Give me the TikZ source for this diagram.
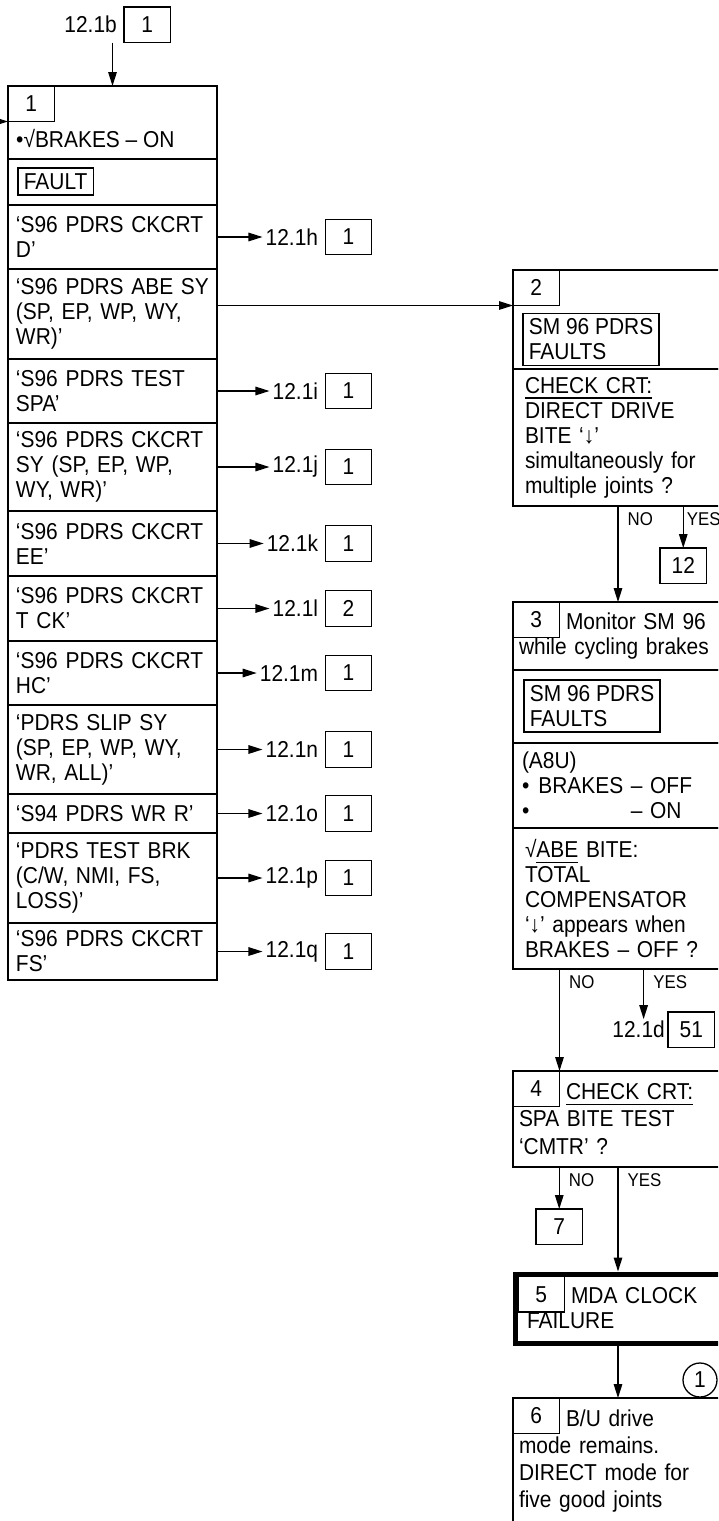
\documentclass[tikz,border=0pt]{standalone}
\usepackage{fontspec}
\setmainfont{Liberation Sans}[FakeStretch=0.91]
\usetikzlibrary{arrows.meta, positioning}

\newcommand{\mainfs}{\fontsize{23pt}{25pt}\selectfont}
\newcommand{\ynfs}{\fontsize{18.5pt}{20pt}\selectfont}
\newcommand{\undl}[1]{\setbox0=\hbox{#1}\rlap{\rule[-5.5pt]{\wd0}{1.4pt}}\box0\relax}

\begin{document}
\begin{tikzpicture}[
  x=1pt, y=-1pt,
  font=\mainfs,
  rowbox/.style={rectangle, draw, line width=1.9pt, outer sep=0pt, inner xsep=8pt, inner ysep=0pt, text width=193pt, align=left},
  stepbox/.style={rectangle, draw, line width=1.9pt, outer sep=0pt, inner xsep=#1, inner ysep=0pt, text width=222pt, anchor=north west, align=left},
  stepbox/.default=6pt,
  numbox/.style={rectangle, draw, line width=1.3pt, minimum width=46.5pt, minimum height=35.5pt, inner sep=0pt, outer sep=0pt},
  tag/.style={rectangle, draw, line width=1.7pt, inner xsep=6pt, inner ysep=5.5pt, align=left, anchor=north west},
  lbl/.style={inner xsep=3pt, inner ysep=2pt},
  yn/.style={font=\ynfs, anchor=north west, inner xsep=9pt, inner ysep=6pt},
  conn/.style={-{Triangle[length=14pt, width=8.5pt]}, line width=1.4pt}
]
\useasboundingbox (0,0) rectangle (718,1521);
\clip (0,0) rectangle (718,1521);

% Step 1: fault list
\node[rowbox, minimum height=73pt, anchor=north] (head) at (112.5,86) {};
\node[numbox, anchor=north west] (num1) at (head.north west) {1};
\node[anchor=base west, inner xsep=8pt] (brkon) at (8,147) {•√BRAKES – ON};
\node[rowbox, minimum height=46pt, below=0pt of head] (faultrow) {};
\node[tag] (fault) at ([shift={(9,8)}]faultrow.north west) {FAULT};
\node[rowbox, minimum height=64pt, below=0pt of faultrow] (ckd) {‘S96 PDRS CKCRT\\D’};
\node[rowbox, minimum height=90pt, below=0pt of ckd] (abe) {‘S96 PDRS ABE SY\\(SP, EP, WP, WY,\\WR)’};
\node[rowbox, minimum height=64pt, below=0pt of abe] (spa) {‘S96 PDRS TEST\\SPA’};
\node[rowbox, minimum height=88pt, below=0pt of spa] (cksy) {‘S96 PDRS CKCRT\\SY (SP, EP, WP,\\WY, WR)’};
\node[rowbox, minimum height=65pt, below=0pt of cksy] (ckee) {‘S96 PDRS CKCRT\\EE’};
\node[rowbox, minimum height=65pt, below=0pt of ckee] (cktck) {‘S96 PDRS CKCRT\\T CK’};
\node[rowbox, minimum height=64pt, below=0pt of cktck] (ckhc) {‘S96 PDRS CKCRT\\HC’};
\node[rowbox, minimum height=89pt, below=0pt of ckhc] (slip) {‘PDRS SLIP SY\\(SP, EP, WP, WY,\\WR, ALL)’};
\node[rowbox, minimum height=39pt, below=0pt of slip] (wrr) {‘S94 PDRS WR R’};
\node[rowbox, minimum height=90pt, below=0pt of wrr] (brktest) {‘PDRS TEST BRK\\(C/W, NMI, FS,\\LOSS)’};
\node[rowbox, minimum height=57pt, below=0pt of brktest] (ckfs) {‘S96 PDRS CKCRT\\FS’};

% Entry and exit references
\node[numbox, anchor=north west] (reftop) at (124,7) {1};
\node[lbl, left=4pt of reftop] (lbltop) {12.1b};
\coordinate (fromleft) at (-30,121.5);
\coordinate (refcol) at (348.5,0);

\node[numbox] (refh) at (ckd.east -| refcol) {1};
\node[lbl, left=4pt of refh] (lblh) {12.1h};
\node[numbox] (refi) at (spa.east -| refcol) {1};
\node[lbl, left=4pt of refi] (lbli) {12.1i};
\node[numbox] (refj) at (cksy.east -| refcol) {1};
\node[lbl, left=4pt of refj] (lblj) {12.1j};
\node[numbox] (refk) at (ckee.east -| refcol) {1};
\node[lbl, left=4pt of refk] (lblk) {12.1k};
\node[numbox] (refl) at (cktck.east -| refcol) {2};
\node[lbl, left=4pt of refl] (lbll) {12.1l};
\node[numbox] (refm) at (ckhc.east -| refcol) {1};
\node[lbl, left=4pt of refm] (lblm) {12.1m};
\node[numbox] (refn) at (slip.east -| refcol) {1};
\node[lbl, left=4pt of refn] (lbln) {12.1n};
\node[numbox] (refo) at (wrr.east -| refcol) {1};
\node[lbl, left=4pt of refo] (lblo) {12.1o};
\node[numbox] (refp) at (brktest.east -| refcol) {1};
\node[lbl, left=4pt of refp] (lblp) {12.1p};
\node[numbox] (refq) at (ckfs.east -| refcol) {1};
\node[lbl, left=4pt of refq] (lblq) {12.1q};

% Step 2
\node[stepbox=12pt, minimum height=99pt] (b2a) at (513,270) {};
\node[numbox, anchor=north west] (num2) at (b2a.north west) {2};
\node[tag] (sm2) at ([shift={(9,7)}]num2.south west) {SM 96 PDRS\\FAULTS};
\node[stepbox=12pt, minimum height=137pt] (b2b) at (b2a.south west) {\undl{CHECK CRT:}\\DIRECT DRIVE\\BITE ‘↓’\\simultaneously for\\multiple joints ?};
\node[numbox, anchor=north west] (r12) at (660,548) {12};
\coordinate (spine) at (618,0);

% Step 3
\node[stepbox, minimum height=68pt] (b3a) at (513,602) {\hspace*{47pt}Monitor SM 96\\while cycling brakes};
\node[numbox, anchor=north west] (num3) at (b3a.north west) {3};
\node[stepbox, minimum height=73pt] (b3b) at (b3a.south west) {};
\node[tag] (sm3) at ([shift={(10,9)}]b3b.north west) {SM 96 PDRS\\FAULTS};
\node[stepbox=9pt, minimum height=85pt] (b3c) at (b3b.south west) {(A8U)\\•\hspace{9pt}BRAKES – OFF\\•\hspace{9pt}\phantom{BRAKES }– ON};
\node[stepbox=12pt, minimum height=141pt] (b3d) at (b3c.south west) {√\undl{ABE} BITE:\\TOTAL\\COMPENSATOR\\‘↓’ appears when\\BRAKES – OFF ?};
\node[numbox, anchor=north west] (r51) at (668,1012) {51};
\node[lbl, left=0pt of r51] (l51) {12.1d};
\coordinate (yes3) at ([xshift=5pt]l51.north);

% Step 4
\node[stepbox, minimum height=96pt] (b4) at (513,1071) {\hspace*{47pt}\undl{CHECK CRT:}\\[2.5pt]SPA BITE TEST\\[2.5pt]‘CMTR’ ?};
\node[numbox, anchor=north west] (num4) at (b4.north west) {4};
\node[numbox, anchor=north west] (r7) at (536,1209) {7};

% Step 5
\node[stepbox=11.5pt, line width=5pt, minimum height=69pt] (b5) at (515.5,1274) {\hspace*{44pt}MDA CLOCK\\FAILURE};
\node[numbox, anchor=north west] (num5) at ([shift={(2.5,2.5)}]b5.north west) {5};

% Step 6
\node[stepbox, minimum height=127pt] (b6) at (513,1398) {\hspace*{47pt}B/U drive\\[2pt]mode remains.\\[2pt]DIRECT mode for\\[2pt]five good joints};
\node[numbox, anchor=north west] (num6) at (b6.north west) {6};
\node[circle, draw, line width=1.3pt, minimum size=34pt, inner sep=0pt] (note1) at (700,1380) {1};

% Connectors
\draw[conn] (head.north |- reftop.south) -- (head.north);
\draw[conn] (fromleft) -- (num1.south west);
\draw[conn] (ckd.east) -- (lblh.west);
\draw[conn] (abe.east |- num2.south west) -- (num2.south west);
\draw[conn] (spa.east) -- (lbli.west);
\draw[conn] (cksy.east) -- (lblj.west);
\draw[conn] (ckee.east) -- (lblk.west);
\draw[conn] (cktck.east) -- (lbll.west);
\draw[conn] (ckhc.east) -- (lblm.west);
\draw[conn] (slip.east) -- (lbln.west);
\draw[conn] (wrr.east) -- (lblo.west);
\draw[conn] (brktest.east) -- (lblp.west);
\draw[conn] (ckfs.east) -- (lblq.west);

\draw[conn] (b2b.south -| spine) -- (b3a.north -| spine) node[yn, pos=0] {NO};
\draw[conn] (b2b.south -| r12.north) -- (r12.north) node[yn, pos=0, inner xsep=3pt] {YES};
\draw[conn] (b3d.south -| num4.north east) -- (num4.north east) node[yn, pos=0] {NO};
\draw[conn] (b3d.south -| yes3) -- (yes3) node[yn, pos=0] {YES};
\draw[conn] (b4.south -| r7.north) -- (r7.north) node[yn, pos=0] {NO};
\draw[conn, shorten >=2.5pt] (b4.south -| spine) -- (b5.north -| spine) node[yn, pos=0] {YES};
\draw[conn] (b5.south -| spine) -- (b6.north -| spine);

\end{tikzpicture}
\end{document}
